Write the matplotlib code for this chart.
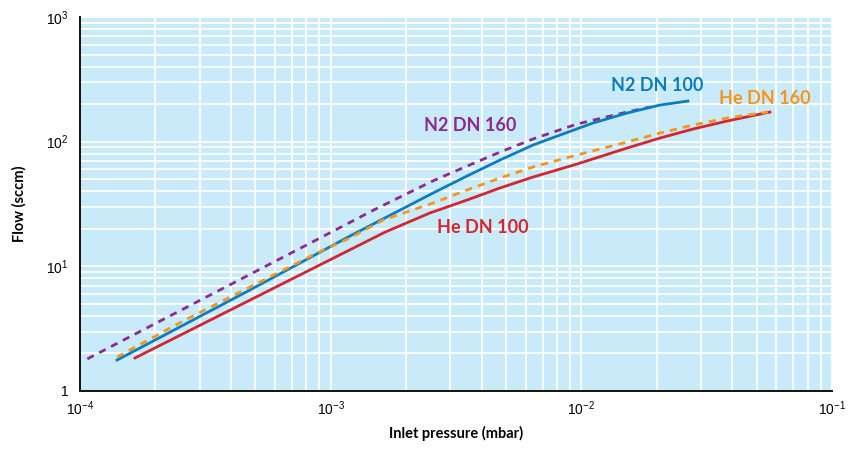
import matplotlib
matplotlib.use("Agg")
import matplotlib.pyplot as plt
from matplotlib.ticker import LogLocator, FixedLocator, FixedFormatter, NullFormatter

plt.rcParams['font.family'] = ['Liberation Sans', 'DejaVu Sans']
plt.rcParams['mathtext.fontset'] = 'custom'
plt.rcParams['mathtext.rm'] = 'Liberation Sans'
plt.rcParams['mathtext.default'] = 'regular'

# values (pressure in mbar, flow in sccm)
n2_160_p = [1.07e-4, 2.0e-4, 4.0e-4, 8.0e-4, 1.5e-3, 2.56e-3, 3.5e-3, 4.74e-3, 6.41e-3, 9.6e-3, 1.52e-2, 1.88e-2]
n2_160_q = [1.81, 3.48, 7.18, 14.8, 28.6, 48.5, 63.7, 82.5, 105.0, 138.4, 172.8, 189.5]

n2_100_p = [1.405e-4, 4.765e-4, 1.194e-3, 2.559e-3, 3.497e-3, 4.735e-3, 6.412e-3,
            8.21e-3, 1.112e-2, 1.52e-2, 2.058e-2, 2.662e-2]
n2_100_q = [1.77, 6.46, 17.5, 38.7, 53.0, 71.2, 93.9, 112.9, 141.0, 169.6, 196.6, 211.7]

he_160_p = [1.405e-4, 2.576e-4, 4.765e-4, 8.82e-4, 1.194e-3, 1.617e-3, 2.559e-3, 3.497e-3, 4.735e-3,
            6.412e-3, 9.6e-3, 1.52e-2, 2.058e-2, 2.788e-2, 3.809e-2, 5.551e-2]
he_160_q = [1.87, 3.64, 6.82, 12.8, 16.9, 23.5, 32.2, 40.9, 51.1, 62.6, 78.1, 99.3, 117.2, 135.9, 154.6, 172.8]

he_100_p = [1.657e-4, 1.647e-3, 2.489e-3, 3.497e-3, 4.735e-3, 6.412e-3, 9.6e-3, 1.52e-2, 2.058e-2,
            2.788e-2, 3.809e-2, 5.654e-2]
he_100_q = [1.84, 18.8, 26.8, 34.0, 42.5, 52.0, 66.1, 88.8, 106.9, 126.2, 146.3, 172.8]

xticks = [1e-4, 1e-3, 1e-2, 1e-1]
xlabels = ['$10^{-4}$', '$10^{-3}$', '$10^{-2}$', '$10^{-1}$']
yticks = [1, 10, 100, 1000]
ylabels = ['1', '$10^{1}$', '$10^{2}$', '$10^{3}$']

purple = '#8E2A8F'
blue = '#0A7DC1'
orange = '#F7941D'
red = '#D22630'

fig = plt.figure(figsize=(8.51, 4.5), dpi=100)
ax = fig.add_axes([80/851, 59/450, 752/851, 374/450])
ax.set_xscale('log')
ax.set_yscale('log')
ax.set_xlim(1e-4, 1e-1)
ax.set_ylim(1, 1000)
ax.set_facecolor('#C9EAF9')

ax.xaxis.set_major_locator(FixedLocator(xticks))
ax.xaxis.set_major_formatter(FixedFormatter(xlabels))
ax.yaxis.set_major_locator(FixedLocator(yticks))
ax.yaxis.set_major_formatter(FixedFormatter(ylabels))
ax.xaxis.set_minor_locator(LogLocator(base=10, subs=range(2, 10)))
ax.yaxis.set_minor_locator(LogLocator(base=10, subs=range(2, 10)))
ax.xaxis.set_minor_formatter(NullFormatter())
ax.yaxis.set_minor_formatter(NullFormatter())
ax.grid(True, which='both', color='white', linewidth=1.3)
ax.set_axisbelow(True)
ax.tick_params(which='both', length=0, labelsize=10)
ax.tick_params(axis='x', pad=6)
ax.tick_params(axis='y', pad=8)

for s in ['top', 'right']:
    ax.spines[s].set_visible(False)
for s in ['left', 'bottom']:
    ax.spines[s].set_linewidth(1.4)
    ax.spines[s].set_color('#111111')

ax.plot(n2_160_p, n2_160_q, color=purple, lw=2.0, ls=(0, (2.6, 2.2)))
ax.plot(he_100_p, he_100_q, color=red, lw=2.0)
ax.plot(n2_100_p, n2_100_q, color=blue, lw=2.0)
ax.plot(he_160_p, he_160_q, color=orange, lw=2.0, ls=(0, (2.6, 2.2)))

lab = dict(family=['Lato', 'DejaVu Sans'], fontweight='bold', fontsize=13, ha='center', va='center')
ax.text(3.59e-3, 136, 'N2 DN 160', color=purple, **lab)
ax.text(2.0e-2, 284, 'N2 DN 100', color=blue, **lab)
ax.text(5.4e-2, 220, 'He DN 160', color=orange, **lab)
ax.text(4.05e-3, 20.3, 'He DN 100', color=red, **lab)

ax.set_xlabel('Inlet pressure (mbar)', family=['Lato', 'DejaVu Sans'], fontweight='bold', fontsize=10.5, labelpad=6)
ax.set_ylabel('Flow (sccm)', family=['Lato', 'DejaVu Sans'], fontweight='bold', fontsize=10.5, labelpad=14)

fig.savefig('out.png', dpi=100)
